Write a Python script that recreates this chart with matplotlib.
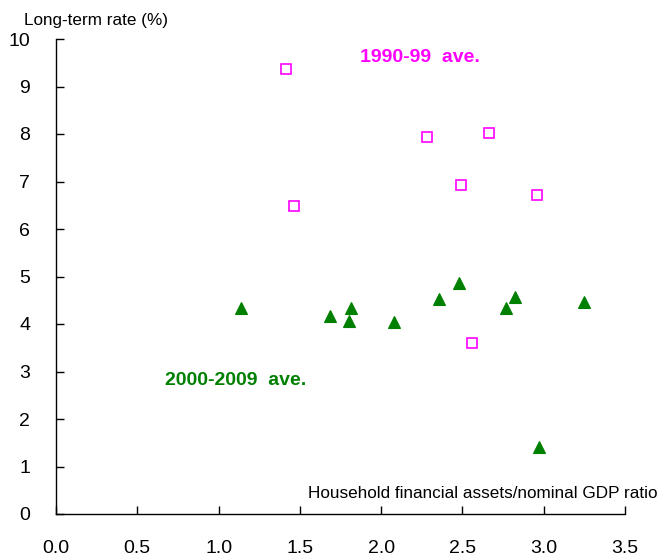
import matplotlib
matplotlib.use("Agg")
import matplotlib.pyplot as plt

plt.rcParams['font.family'] = ['Liberation Sans', 'DejaVu Sans']

# 1990-99 averages
sq_x = [1.414, 1.464, 2.282, 2.663, 2.491, 2.958, 2.558]
sq_y = [9.37, 6.48, 7.94, 8.02, 6.93, 6.72, 3.60]

# 2000-2009 averages
tr_x = [1.138, 1.685, 1.814, 1.802, 2.079, 2.355, 2.478, 2.768, 2.823, 3.247, 2.970]
tr_y = [4.34, 4.17, 4.34, 4.06, 4.04, 4.53, 4.86, 4.34, 4.57, 4.46, 1.41]

x_ticks = [0.0, 0.5, 1.0, 1.5, 2.0, 2.5, 3.0, 3.5]
x_labels = ["0.0", "0.5", "1.0", "1.5", "2.0", "2.5", "3.0", "3.5"]
y_ticks = [0, 1, 2, 3, 4, 5, 6, 7, 8, 9, 10]

fig = plt.figure(figsize=(6.58, 5.57), dpi=100)
ax = fig.add_axes([56/658, 43/557, (625-56)/658, (518-43)/557])

ax.plot(sq_x, sq_y, linestyle='none', marker='s', markersize=7.6,
        markerfacecolor='white', markeredgecolor='#FF00FF', markeredgewidth=1.2)
ax.plot(tr_x, tr_y, linestyle='none', marker='^', markersize=8.5,
        markerfacecolor='#008000', markeredgecolor='#008000', markeredgewidth=0.8)

ax.set_xlim(0, 3.5)
ax.set_ylim(0, 10)
ax.set_xticks(x_ticks)
ax.set_xticklabels(x_labels)
ax.set_yticks(y_ticks)
for s in ['top', 'right']:
    ax.spines[s].set_visible(False)
for s in ['left', 'bottom']:
    ax.spines[s].set_linewidth(1.0)
ax.tick_params(axis='both', direction='in', length=5.5, width=1.0,
               labelsize=14)
ax.tick_params(axis='x', pad=18.5)
ax.tick_params(axis='y', pad=18.5)

ax.text(1.87, 9.62, "1990-99  ave.", color='#FF00FF', fontsize=14,
        fontweight='bold', ha='left', va='center')
ax.text(0.67, 2.82, "2000-2009  ave.", color='#008000', fontsize=14,
        fontweight='bold', ha='left', va='center')

fig.text(24/658, 1 - 20/557, "Long-term rate (%)", fontsize=12.3,
         ha='left', va='center')
fig.text(657/658, 1 - 493/557, "Household financial assets/nominal GDP ratio",
         fontsize=12.3, ha='right', va='center')

fig.savefig("out.png", dpi=100)
